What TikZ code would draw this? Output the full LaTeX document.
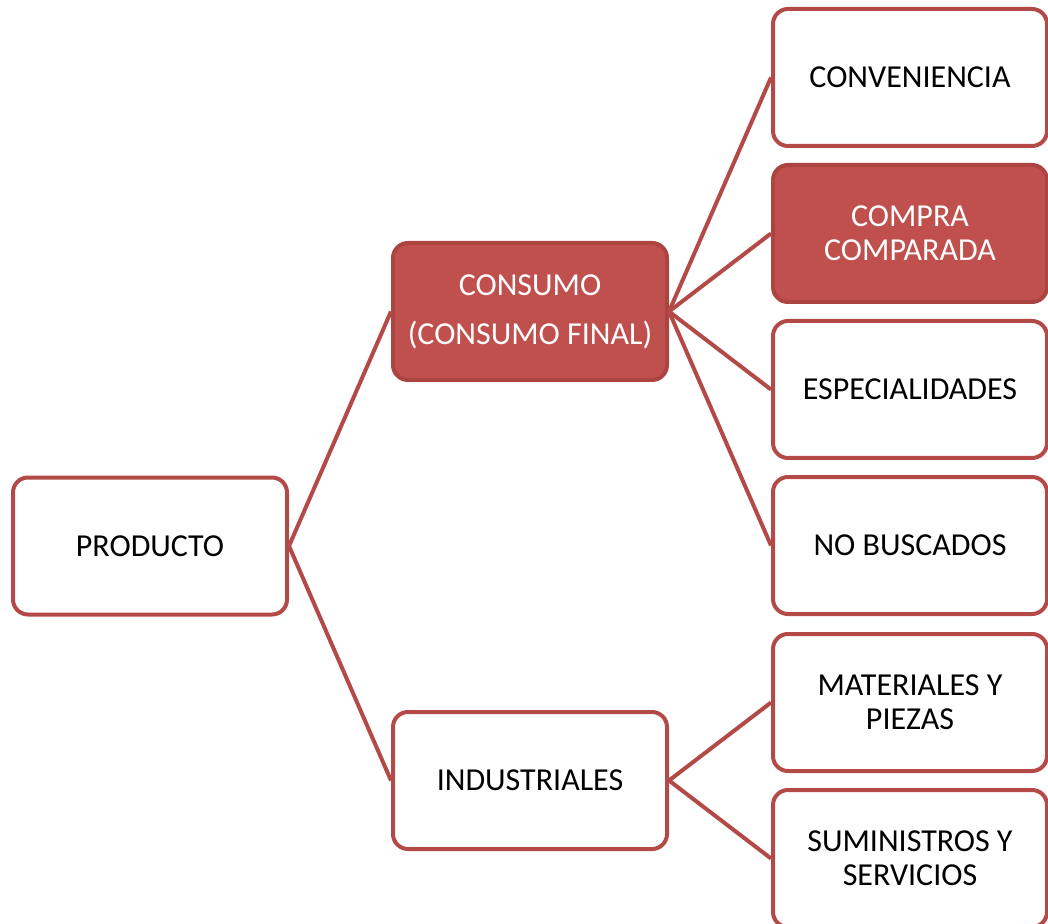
\documentclass[tikz,border=0pt]{standalone}
\usepackage{fontspec}
\setmainfont{Carlito}
\usetikzlibrary{trees}
\definecolor{redline}{RGB}{180,74,71}
\definecolor{redfill}{RGB}{192,80,77}
\definecolor{reddark}{RGB}{172,68,65}
\tikzset{
  catbox/.style={draw=redline, line width=2pt, fill=white, rounded corners=7.5pt,
    minimum width=137pt, minimum height=68.5pt, align=center, text=black,
    font=\fontsize{16}{17}\selectfont},
  catboxhi/.style={catbox, draw=reddark, fill=redfill, text=white}
}

\begin{document}
\begin{tikzpicture}[
        grow=right,
        level distance=190pt,
        level 1/.style={sibling distance=234.5pt},
        level 2/.style={sibling distance=78pt},
        edge from parent/.style={draw=redline, line width=2pt},
        edge from parent path={(\tikzparentnode.east) -- (\tikzchildnode.west)}]
    \useasboundingbox (0pt,0pt) rectangle (524pt,-462pt);
            \node[catbox] (producto) at (75pt,-273pt) {PRODUCTO}
            child { node[catbox] (industriales) {INDUSTRIALES}
                child { node[catbox] (suministros) {SUMINISTROS Y\\SERVICIOS} }
                child { node[catbox] (materiales) {MATERIALES Y\\PIEZAS} }
            }
            child { node[catboxhi] (consumo) {CONSUMO\\[7.5pt](CONSUMO FINAL)}
                child { node[catbox] (nobuscados) {NO BUSCADOS} }
                child { node[catbox] (especialidades) {ESPECIALIDADES} }
                child { node[catboxhi] (compra) {COMPRA\\COMPARADA} }
                child { node[catbox] (conveniencia) {CONVENIENCIA} }
            };
    \end{tikzpicture}
\end{document}
